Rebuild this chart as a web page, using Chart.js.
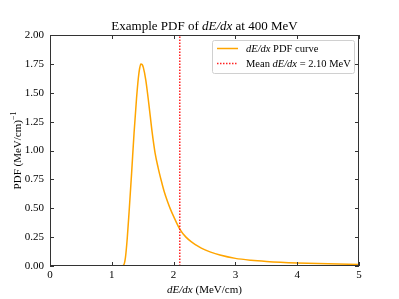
<!DOCTYPE html>
<html>
<head>
<meta charset="utf-8">
<script src="https://cdn.jsdelivr.net/npm/chart.js@4"></script>
<style>
  html, body { margin: 0; padding: 0; background: #fff; }
  #wrap { width: 399px; height: 299px; }
</style>
</head>
<body>
<div id="wrap"><canvas id="pdfChart" width="399" height="299"></canvas></div>
<script>
// Data
const energyLoss = [0, 0.5, 1.0, 1.16, 1.19, 1.22, 1.25, 1.28, 1.32, 1.36, 1.40, 1.43, 1.45, 1.47, 1.49, 1.51, 1.55, 1.60, 1.65, 1.70, 1.75, 1.80, 1.85, 1.90, 1.95, 2.0, 2.1, 2.2, 2.3, 2.4, 2.5, 2.6, 2.75, 3.0, 3.25, 3.5, 4.0, 4.5, 5.0];
const pdfValues = [0, 0, 0, 0, 0.006, 0.07, 0.24, 0.47, 0.8, 1.15, 1.45, 1.63, 1.71, 1.75, 1.745, 1.72, 1.61, 1.40, 1.17, 0.98, 0.85, 0.74, 0.64, 0.56, 0.49, 0.43, 0.32, 0.25, 0.205, 0.17, 0.142, 0.12, 0.095, 0.066, 0.05, 0.04, 0.027, 0.019, 0.014];
const meanEnergyLoss = 2.10;
const xTicks = [0, 1, 2, 3, 4, 5];
const yTicks = [0, 0.25, 0.5, 0.75, 1.0, 1.25, 1.5, 1.75, 2.0];

const SERIF = '"Liberation Serif", "DejaVu Serif", serif';
const FRAME = '#333';

// draw a run of [text, italic] pieces starting at x
function drawRuns(ctx, runs, x, y, size) {
    runs.forEach(([txt, it]) => {
        ctx.font = (it ? 'italic ' : '') + size + 'px ' + SERIF;
        ctx.fillText(txt, x, y);
        x += ctx.measureText(txt).width;
    });
    return x;
}

function runsWidth(ctx, runs, size) {
    let w = 0;
    runs.forEach(([txt, it]) => {
        ctx.font = (it ? 'italic ' : '') + size + 'px ' + SERIF;
        w += ctx.measureText(txt).width;
    });
    return w;
}

const decorations = {
    id: 'decorations',
    afterDraw(chart) {
        const ctx = chart.ctx;
        const a = chart.chartArea;
        const xs = chart.scales.x;
        const ys = chart.scales.y;
        ctx.save();

        // frame
        ctx.strokeStyle = FRAME;
        ctx.lineWidth = 1;
        ctx.strokeRect(a.left + 0.5, a.top + 0.5, a.right - a.left - 1, a.bottom - a.top - 1);

        // inward ticks on all four sides
        ctx.beginPath();
        xTicks.forEach(v => {
            const px = Math.round(xs.getPixelForValue(v)) + 0.5;
            ctx.moveTo(px, a.bottom); ctx.lineTo(px, a.bottom - 4);
            ctx.moveTo(px, a.top); ctx.lineTo(px, a.top + 4);
        });
        yTicks.forEach(v => {
            const py = Math.round(ys.getPixelForValue(v)) + 0.5;
            ctx.moveTo(a.left, py); ctx.lineTo(a.left + 4, py);
            ctx.moveTo(a.right, py); ctx.lineTo(a.right - 4, py);
        });
        ctx.stroke();

        ctx.fillStyle = '#000';
        ctx.textBaseline = 'alphabetic';

        // title
        const title = [['Example PDF of ', false], ['dE/dx', true], [' at 400 MeV', false]];
        const tw = runsWidth(ctx, title, 13);
        drawRuns(ctx, title, (a.left + a.right) / 2 - tw / 2, 30, 13);

        // x axis title
        const xt = [['dE/dx', true], [' (MeV/cm)', false]];
        const xw = runsWidth(ctx, xt, 11);
        drawRuns(ctx, xt, (a.left + a.right) / 2 - xw / 2, 293, 11);

        // y axis title, rotated
        ctx.save();
        ctx.translate(17, (a.top + a.bottom) / 2);
        ctx.rotate(-Math.PI / 2);
        ctx.font = '11px ' + SERIF;
        const yl = 'PDF (MeV/cm)';
        const ylw = ctx.measureText(yl).width;
        ctx.font = '8px ' + SERIF;
        const supw = ctx.measureText('\u22121').width;
        const sx = -(ylw + supw) / 2;
        ctx.font = '11px ' + SERIF;
        ctx.fillText(yl, sx, 4);
        ctx.font = '8px ' + SERIF;
        ctx.fillText('\u22121', sx + ylw, -1);
        ctx.restore();

        // legend
        const lx = 212, ly = 40, lw = 142, lh = 33;
        ctx.beginPath();
        ctx.roundRect(lx + 0.5, ly + 0.5, lw, lh, 2);
        ctx.fillStyle = 'rgba(255,255,255,0.8)';
        ctx.fill();
        ctx.strokeStyle = '#d0d0d0';
        ctx.stroke();

        ctx.lineWidth = 1.5;
        ctx.strokeStyle = 'orange';
        ctx.beginPath();
        ctx.moveTo(217, 48.5); ctx.lineTo(238, 48.5);
        ctx.stroke();
        ctx.strokeStyle = '#f22';
        ctx.setLineDash([1.5, 1.5]);
        ctx.beginPath();
        ctx.moveTo(217, 63.5); ctx.lineTo(238, 63.5);
        ctx.stroke();
        ctx.setLineDash([]);

        ctx.fillStyle = '#000';
        drawRuns(ctx, [['dE/dx', true], [' PDF curve', false]], 246, 52, 10.5);
        drawRuns(ctx, [['Mean ', false], ['dE/dx', true], [' = ' + meanEnergyLoss.toFixed(2) + ' MeV', false]], 246, 67, 10.5);

        ctx.restore();
    }
};

const ctx = document.getElementById('pdfChart').getContext('2d');
new Chart(ctx, {
    type: 'scatter',
    data: {
        datasets: [
            {
                label: 'dE/dx PDF curve',
                data: energyLoss.map((x, i) => ({ x: x, y: pdfValues[i] })),
                showLine: true,
                borderColor: 'orange',
                borderWidth: 1.5,
                pointRadius: 0,
                cubicInterpolationMode: 'monotone',
                order: 2
            },
            {
                label: 'Mean dE/dx',
                data: [{ x: meanEnergyLoss, y: 0 }, { x: meanEnergyLoss, y: 2 }],
                showLine: true,
                borderColor: '#f22',
                borderWidth: 1.5,
                borderDash: [1.5, 1.5],
                pointRadius: 0,
                order: 1
            }
        ]
    },
    options: {
        responsive: false,
        animation: false,
        devicePixelRatio: 1,
        layout: { padding: { left: 0, right: 40, top: 35, bottom: 0 } },
        plugins: {
            legend: { display: false },
            tooltip: { enabled: false }
        },
        scales: {
            x: {
                type: 'linear',
                min: 0,
                max: 5,
                afterFit: s => { s.height = 33; },
                afterBuildTicks: s => { s.ticks = xTicks.map(v => ({ value: v })); },
                grid: { display: false, drawTicks: false },
                border: { display: false },
                ticks: {
                    color: '#000',
                    padding: 3,
                    font: { family: SERIF, size: 11 },
                    callback: v => String(v)
                }
            },
            y: {
                type: 'linear',
                min: 0,
                max: 2,
                afterFit: s => { s.width = 50; },
                afterBuildTicks: s => { s.ticks = yTicks.map(v => ({ value: v })); },
                grid: { display: false, drawTicks: false },
                border: { display: false },
                ticks: {
                    color: '#000',
                    padding: 6,
                    font: { family: SERIF, size: 11 },
                    callback: v => v.toFixed(2)
                }
            }
        }
    },
    plugins: [decorations]
});
</script>
</body>
</html>
